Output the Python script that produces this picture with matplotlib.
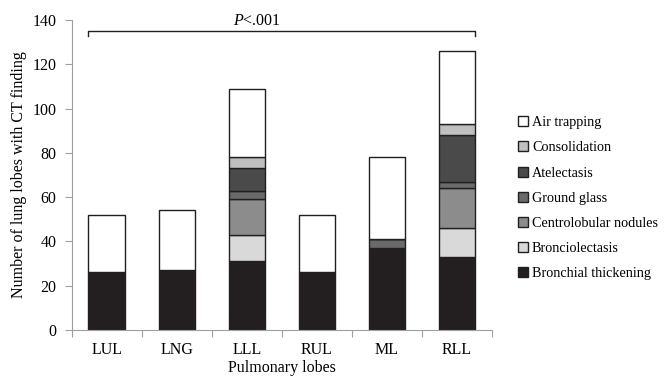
import numpy as np
import matplotlib.pyplot as plt
from matplotlib.ticker import FixedLocator, NullFormatter

plt.rcParams['font.family'] = ['Liberation Serif', 'DejaVu Serif']
plt.rcParams['mathtext.fontset'] = 'custom'
plt.rcParams['mathtext.rm'] = 'Liberation Serif'
plt.rcParams['mathtext.it'] = 'Liberation Serif:italic'

lobes = ['LUL', 'LNG', 'LLL', 'RUL', 'ML', 'RLL']
findings = ['Bronchial thickening', 'Bronciolectasis', 'Centrolobular nodules',
            'Ground glass', 'Atelectasis', 'Consolidation', 'Air trapping']
bronchial = [26, 27, 31, 26, 37, 33]
bronciolectasis = [0, 0, 12, 0, 0, 13]
centrolobular = [0, 0, 16, 0, 0, 18]
ground_glass = [0, 0, 4, 0, 4, 3]
atelectasis = [0, 0, 10, 0, 0, 21]
consolidation = [0, 0, 5, 0, 0, 5]
air_trapping = [26, 27, 31, 26, 37, 33]
series = [bronchial, bronciolectasis, centrolobular, ground_glass,
          atelectasis, consolidation, air_trapping]
colors = ['#231f20', '#d9d9d9', '#8c8c8c', '#6a6a6a', '#4a4a4a', '#bfbfbf', '#ffffff']

fig = plt.figure(figsize=(6.7, 3.78), dpi=100)
ax = fig.add_axes([0.107, 0.127, 0.627, 0.82])

x = np.arange(len(lobes))
bottom = np.zeros(len(lobes))
handles = []
for vals, col, name in zip(series, colors, findings):
    vals = np.array(vals, dtype=float)
    b = ax.bar(x, vals, width=0.52, bottom=bottom, color=col,
               edgecolor='#231f20', linewidth=1.0, label=name)
    handles.append(b)
    bottom += vals

ax.set_xlim(-0.5, len(lobes) - 0.5)
ax.set_ylim(0, 140)
ax.set_yticks(range(0, 141, 20))
ax.xaxis.set_major_locator(FixedLocator(np.arange(-0.5, len(lobes), 1)))
ax.xaxis.set_major_formatter(NullFormatter())
ax.xaxis.set_minor_locator(FixedLocator(x))
ax.set_xticklabels(lobes, minor=True)
ax.tick_params(axis='x', which='minor', length=0, pad=9, labelsize=11.5)
ax.tick_params(axis='x', which='major', length=5, direction='out', color='#a0a0a0')
ax.tick_params(axis='y', length=5, direction='out', color='#a0a0a0', labelsize=11.5, pad=6)

for s in ['top', 'right']:
    ax.spines[s].set_visible(False)
for s in ['left', 'bottom']:
    ax.spines[s].set_color('#a0a0a0')

ax.set_xlabel('Pulmonary lobes', fontsize=11.5, labelpad=1)
ax.set_ylabel('Number of lung lobes with CT finding', fontsize=11.5, labelpad=4)

# significance bracket
bx0, bx1, by = -0.26, 5.26, 135
ax.plot([bx0, bx0, bx1, bx1], [by - 2, by, by, by - 2], color='#231f20',
        linewidth=1.0, clip_on=False)
ax.text((bx0 + bx1) / 2 - 0.35, by + 1, '$\\it{P}$<.001', ha='center', va='bottom',
        fontsize=11.5)

leg = ax.legend(handles[::-1], findings[::-1], loc='center left',
                bbox_to_anchor=(1.045, 0.425), frameon=False, fontsize=10.2,
                handlelength=0.7, handleheight=0.7, handletextpad=0.3,
                labelspacing=0.86, borderpad=0)

fig.savefig('out.png', dpi=100)
